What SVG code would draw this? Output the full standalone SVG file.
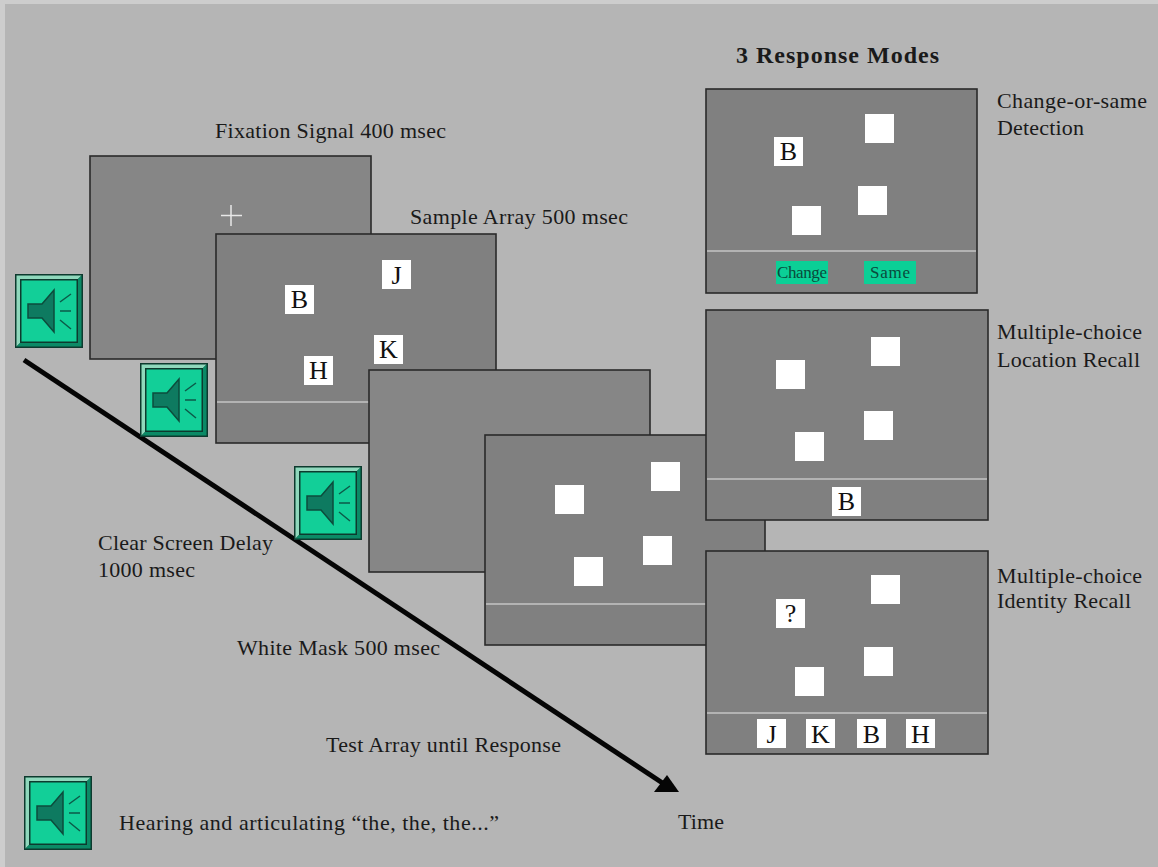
<svg xmlns="http://www.w3.org/2000/svg" width="1158" height="867" viewBox="0 0 1158 867">
<style>
text{font-family:"Liberation Serif","Times New Roman",serif;fill:#1a1a1a;font-size:22px}
.p{stroke:#2a2a2a;stroke-width:1.6;fill:#808080}
.d{stroke:#2a2a2a;stroke-width:1.6;fill:#868686}
.l{stroke:#c4c4c4;stroke-width:1.6}
.w{fill:#fff}
.c{font-size:26px;fill:#111;text-anchor:middle}
.b{fill:#0bcf96}
.s{font-size:17px;fill:#0a4a3c}
</style>
<defs>
<g id="spk">
<rect x="0" y="0" width="68" height="74" fill="#0d3a2e"/>
<polygon points="1.500,1.500 66.500,1.500 62,6 6,6 6,68 1.500,72.500" fill="#8fd8bc"/>
<polygon points="66.500,1.500 66.500,72.500 1.500,72.500 6,68 62,68 62,6" fill="#0b8a66"/>
<rect x="5" y="5" width="58" height="64" fill="#0d3a2e"/>
<rect x="6.500" y="6.500" width="55" height="61" fill="#12cf98"/>
<polygon points="13,30 27,30 39,16 39,58 27,44 13,44" fill="#0e7a60" stroke="#0c4c3c" stroke-width="1.500"/>
<path d="M45 28 L56 20 M45 37 L56 37 M45 46 L56 55" stroke="#0c5a48" stroke-width="1.500" fill="none"/>
</g>
</defs>
<rect width="1158" height="867" fill="#b5b5b5"/>
<rect width="5" height="867" fill="#cdcdcd"/>
<rect width="1158" height="4" fill="#cdcdcd"/>

<g id="fixation-panel">
<rect class="d" x="90" y="156" width="281" height="203"/>
<path d="M231 205 V226 M221 215.500 H242" stroke="#e8e8e8" stroke-width="1.500"/>
</g>
<g id="sample-panel">
<rect class="p" x="216" y="234" width="280" height="209"/>
<line class="l" x1="217" y1="402" x2="495" y2="402"/>
<rect class="w" x="285" y="285" width="29" height="29"/><text class="c" x="299.500" y="308">B</text>
<rect class="w" x="382" y="260" width="29" height="29"/><text class="c" x="396.500" y="284">J</text>
<rect class="w" x="374" y="335" width="29" height="29"/><text class="c" x="388.500" y="358">K</text>
<rect class="w" x="304" y="356" width="29" height="29"/><text class="c" x="318.500" y="379">H</text>
</g>
<g id="clear-panel"><rect class="d" x="369" y="370" width="281" height="202"/></g>
<g id="test-panel">
<rect class="p" x="485" y="435" width="280" height="210"/>
<line class="l" x1="486" y1="604" x2="764" y2="604"/>
<rect class="w" x="555" y="485" width="29" height="29"/>
<rect class="w" x="651" y="462" width="29" height="29"/>
<rect class="w" x="643" y="536" width="29" height="29"/>
<rect class="w" x="574" y="557" width="29" height="29"/>
</g>
<g id="mode-change">
<rect class="p" x="706" y="89" width="271" height="204"/>
<line class="l" x1="707" y1="251" x2="976" y2="251"/>
<rect class="w" x="774" y="137" width="29" height="29"/><text class="c" x="788.500" y="160">B</text>
<rect class="w" x="865" y="114" width="29" height="29"/>
<rect class="w" x="858" y="186" width="29" height="29"/>
<rect class="w" x="792" y="206" width="29" height="29"/>
<rect class="b" x="776" y="261" width="52" height="23"/><text class="s" x="777" y="278" textLength="50">Change</text>
<rect class="b" x="864" y="261" width="52" height="23"/><text class="s" x="870" y="278" textLength="40">Same</text>
</g>
<g id="mode-location">
<rect class="p" x="706" y="310" width="282" height="210"/>
<line class="l" x1="707" y1="479" x2="987" y2="479"/>
<rect class="w" x="776" y="360" width="29" height="29"/>
<rect class="w" x="871" y="337" width="29" height="29"/>
<rect class="w" x="864" y="411" width="29" height="29"/>
<rect class="w" x="795" y="432" width="29" height="29"/>
<rect class="w" x="832" y="487" width="29" height="29"/><text class="c" x="846.500" y="510">B</text>
</g>
<g id="mode-identity">
<rect class="p" x="706" y="551" width="282" height="203"/>
<line class="l" x1="707" y1="713" x2="987" y2="713"/>
<rect class="w" x="776" y="599" width="29" height="29"/><text class="c" x="790.500" y="622">?</text>
<rect class="w" x="871" y="575" width="29" height="29"/>
<rect class="w" x="864" y="647" width="29" height="29"/>
<rect class="w" x="795" y="667" width="29" height="29"/>
<rect class="w" x="757" y="719" width="29" height="29"/><text class="c" x="771.500" y="743">J</text>
<rect class="w" x="806" y="719" width="29" height="29"/><text class="c" x="820.500" y="743">K</text>
<rect class="w" x="857" y="719" width="29" height="29"/><text class="c" x="871.500" y="743">B</text>
<rect class="w" x="906" y="719" width="29" height="29"/><text class="c" x="920.500" y="743">H</text>
</g>

<g id="connectors">
<line x1="24" y1="360" x2="664" y2="784" stroke="#050505" stroke-width="5"/>
<polygon points="654,792 679,792 667,775" fill="#050505"/>
</g>

<g id="speaker-1"><use href="#spk" x="15" y="274"/></g>
<g id="speaker-2"><use href="#spk" x="140" y="363"/></g>
<g id="speaker-3"><use href="#spk" x="294" y="466"/></g>
<g id="speaker-4"><use href="#spk" x="24" y="776"/></g>

<g id="labels">
<text x="215" y="138" textLength="231">Fixation Signal 400 msec</text>
<text x="410" y="224" textLength="218">Sample Array 500 msec</text>
<text x="98" y="550" textLength="175">Clear Screen Delay</text>
<text x="98" y="577" textLength="97">1000 msec</text>
<text x="237" y="655" textLength="203">White Mask 500 msec</text>
<text x="326" y="752" textLength="235">Test Array until Response</text>
<text x="119" y="830" textLength="380">Hearing and articulating “the, the, the...”</text>
<text x="678" y="829" textLength="46">Time</text>
<text x="736" y="63" textLength="203" style="font-weight:bold;font-size:24px">3 Response Modes</text>
<text x="997" y="108" textLength="150">Change-or-same</text>
<text x="997" y="135" textLength="87">Detection</text>
<text x="997" y="339" textLength="145">Multiple-choice</text>
<text x="997" y="367" textLength="143">Location Recall</text>
<text x="997" y="583" textLength="145">Multiple-choice</text>
<text x="997" y="608" textLength="134">Identity Recall</text>
</g>
</svg>
